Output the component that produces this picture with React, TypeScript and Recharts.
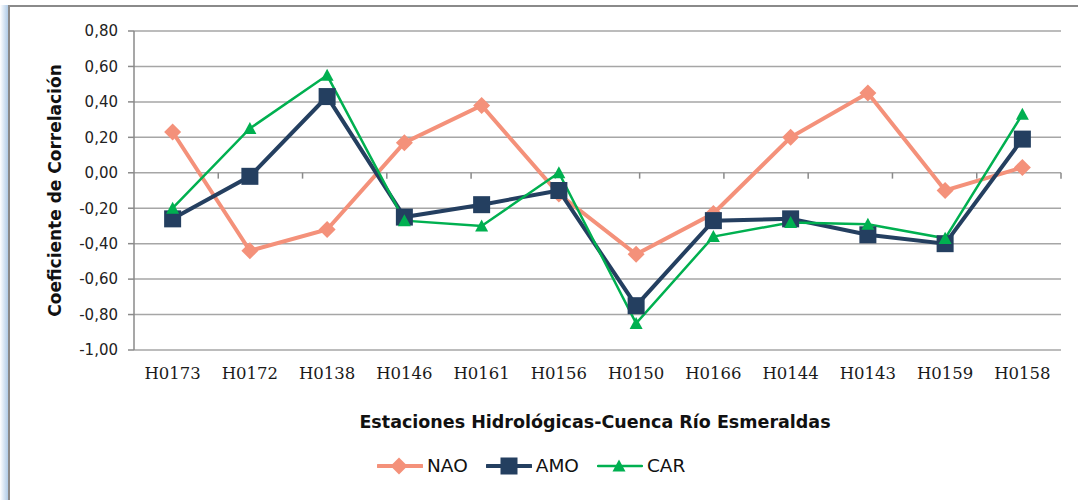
import React from 'react';
import { LineChart, Line, XAxis, YAxis, CartesianGrid, ReferenceLine, Legend } from 'recharts';

const categories = ['H0173', 'H0172', 'H0138', 'H0146', 'H0161', 'H0156', 'H0150', 'H0166', 'H0144', 'H0143', 'H0159', 'H0158'];
const naoValues = [0.23, -0.44, -0.32, 0.17, 0.38, -0.12, -0.46, -0.23, 0.2, 0.45, -0.1, 0.03];
const amoValues = [-0.26, -0.02, 0.43, -0.25, -0.18, -0.1, -0.75, -0.27, -0.26, -0.35, -0.4, 0.19];
const carValues = [-0.2, 0.25, 0.55, -0.27, -0.3, 0.0, -0.85, -0.36, -0.28, -0.29, -0.37, 0.33];
const yTicks = [-1, -0.8, -0.6, -0.4, -0.2, 0, 0.2, 0.4, 0.6, 0.8];
const boundaryTicks = [1, 2, 3, 4, 5, 6, 7, 8, 9, 10, 11, 12];

const NAO_COLOR = '#F4917A';
const AMO_COLOR = '#243F60';
const CAR_COLOR = '#00B050';

const data = categories.map((c, i) => ({ name: c, NAO: naoValues[i], AMO: amoValues[i], CAR: carValues[i] }));

const W = 1078;
const H = 500;
const M = { top: 31, right: 17, left: 0, bottom: 0 };
const Y_AXIS_W = 134;
const X_AXIS_H = 150;
const plotW = W - M.left - M.right - Y_AXIS_W;
const halfBand = plotW / categories.length / 2;

const Diamond = (props: any) => {
  const { cx, cy } = props;
  if (cx == null || cy == null) return null;
  const r = 8.5;
  return <path d={`M${cx},${cy - r}L${cx + r},${cy}L${cx},${cy + r}L${cx - r},${cy}Z`} fill={NAO_COLOR} />;
};
const Square = (props: any) => {
  const { cx, cy } = props;
  if (cx == null || cy == null) return null;
  const s = 8.5;
  return <rect x={cx - s} y={cy - s} width={2 * s} height={2 * s} fill={AMO_COLOR} />;
};
const Triangle = (props: any) => {
  const { cx, cy } = props;
  if (cx == null || cy == null) return null;
  const s = 6.5;
  return <path d={`M${cx},${cy - s}L${cx + s},${cy + s * 0.85}L${cx - s},${cy + s * 0.85}Z`} fill={CAR_COLOR} />;
};

const fmt = (v: number) => v.toFixed(2).replace('.', ',');

const LegendContent = () => {
  const items = [
    { name: 'NAO', color: NAO_COLOR, w: 4, marker: 'diamond' },
    { name: 'AMO', color: AMO_COLOR, w: 4, marker: 'square' },
    { name: 'CAR', color: CAR_COLOR, w: 2.5, marker: 'triangle' },
  ];
  return (
    <div style={{ display: 'flex', alignItems: 'center', gap: 18 }}>
      {items.map((it) => (
        <div key={it.name} style={{ display: 'flex', alignItems: 'center' }}>
          <svg width={46} height={20}>
            <line x1={1} y1={10} x2={45} y2={10} stroke={it.color} strokeWidth={it.w} strokeLinecap="round" />
            {it.marker === 'diamond' && <Diamond cx={22} cy={10} />}
            {it.marker === 'square' && <Square cx={23} cy={10} />}
            {it.marker === 'triangle' && <Triangle cx={22} cy={10} />}
          </svg>
          <span style={{ marginLeft: 4, fontFamily: 'DejaVu Sans', fontSize: 18.5, color: '#111' }}>{it.name}</span>
        </div>
      ))}
    </div>
  );
};

export default function App() {
  return (
    <div style={{ position: 'absolute', left: 0, top: 0, width: W, height: H, background: '#fff', overflow: 'hidden' }}>
      <div style={{ position: 'absolute', left: 0, top: 5, width: 9, height: 600, background: 'linear-gradient(to right, #ffffff, #c9dcef 60%, #a9c6e4)' }} />
      <div style={{ position: 'absolute', left: 8, top: 5, width: 1200, height: 600, borderTop: '2px solid #8a8a8a', borderLeft: '2px solid #8a8a8a', boxSizing: 'border-box' }} />
      <div style={{ position: 'absolute', left: 0, top: 0 }}>
        <LineChart width={W} height={H} data={data} margin={M}>
          <CartesianGrid vertical={false} stroke="#a6a6a6" strokeWidth={1.5} />
          <XAxis
            dataKey="name"
            height={X_AXIS_H}
            padding={{ left: halfBand, right: halfBand }}
            axisLine={false}
            tickLine={false}
            tickSize={0}
            tickMargin={17}
            interval={0}
            tick={{ fontFamily: 'DejaVu Serif', fontSize: 16.5, fill: '#1a1a1a' }}
            label={() => (
              <text x={595} y={428} textAnchor="middle" fontFamily="DejaVu Sans" fontWeight="bold" fontSize={17.5} fill="#111">
                Estaciones Hidrológicas-Cuenca Río Esmeraldas
              </text>
            )}
          />
          <XAxis xAxisId="n" type="number" domain={[0, categories.length]} hide />
          <YAxis
            width={Y_AXIS_W}
            domain={[-1, 0.8]}
            ticks={yTicks}
            tickFormatter={fmt}
            axisLine={{ stroke: '#8a8a8a', strokeWidth: 1.5 }}
            tickLine={{ stroke: '#8a8a8a', strokeWidth: 1.5 }}
            tickSize={6}
            tickMargin={10}
            interval={0}
            tick={{ fontFamily: 'DejaVu Sans', fontSize: 15, fill: '#222' }}
            label={() => (
              <text x={61} y={190.5} transform="rotate(-90 61 190.5)" textAnchor="middle" fontFamily="DejaVu Sans" fontWeight="bold" fontSize={17} fill="#111">
                Coeficiente de Correlación
              </text>
            )}
          />
          {boundaryTicks.map((b) => (
            <ReferenceLine
              key={b}
              xAxisId="n"
              segment={[{ x: b, y: 0 }, { x: b, y: -0.033 }]}
              stroke="#8a8a8a"
              strokeWidth={1.5}
            />
          ))}
          <Line dataKey="NAO" stroke={NAO_COLOR} strokeWidth={4} dot={<Diamond />} activeDot={false} isAnimationActive={false} />
          <Line dataKey="AMO" stroke={AMO_COLOR} strokeWidth={4} dot={<Square />} activeDot={false} isAnimationActive={false} />
          <Line dataKey="CAR" stroke={CAR_COLOR} strokeWidth={2.5} dot={<Triangle />} activeDot={false} isAnimationActive={false} />
          <Legend
            layout="horizontal"
            verticalAlign="middle"
            align="center"
            content={<LegendContent />}
            wrapperStyle={{ position: 'absolute', left: 377, top: 455, width: 400, height: 22 }}
          />
        </LineChart>
      </div>
    </div>
  );
}
